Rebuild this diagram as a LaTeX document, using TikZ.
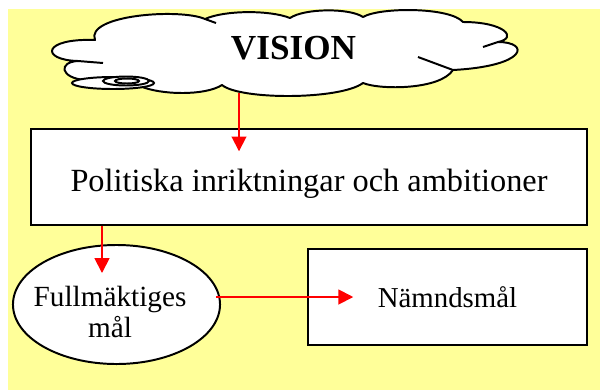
\documentclass[tikz,border=0pt]{standalone}
\usepackage{fontspec}
\setmainfont{Liberation Serif}
\usetikzlibrary{arrows.meta,calc,shapes.geometric}
\definecolor{bgyellow}{RGB}{255,255,153}
\begin{document}
\begin{tikzpicture}[x=0.025cm, y=-0.025cm,
  outline/.style={draw=black, line width=1.4pt, fill=white},
  box/.style={draw=black, line width=1pt, fill=white, rectangle, inner sep=0pt},
  arr/.style={red, line width=1.3pt, -{Triangle[width=10.5pt,length=10.5pt]}}]
    % Background
    \useasboundingbox (0,0) rectangle (600,390);
    \fill[bgyellow] (8,9) rectangle (600,390);

    % Cloud
    \draw[outline, line join=round] (95,40)
      .. controls (85,15) and (180,8) .. (205,19)
      .. controls (225,10) and (270,10) .. (290,18)
      .. controls (305,8) and (350,8) .. (363,17)
      .. controls (380,7) and (450,7) .. (463,22)
      .. controls (505,22) and (518,38) .. (498,42)
      .. controls (530,42) and (528,66) .. (453,70)
      .. controls (440,90) and (380,90) .. (363,83)
      .. controls (340,100) and (240,100) .. (222,85)
      .. controls (205,96) and (160,95) .. (140,86)
      -- (85,80)
      .. controls (60,78) and (58,62) .. (78,61)
      .. controls (40,60) and (42,38) .. (95,40) -- cycle;
    \foreach \a/\b/\c in {205/19/{216,23}, 498/42/{483,47}, 453/70/{418,57}, 78/61/{103,63}} {
      \draw[line width=1.4pt] (\a,\b) .. controls ($(\a,\b)!0.5!(\c)$) .. (\c);
    }

    % Bubbles
    \draw[outline] (113,83) ellipse [x radius=41, y radius=6];
    \draw[outline] (126,81) ellipse [x radius=23, y radius=4.5];
    \draw[outline] (127,81) ellipse [x radius=12, y radius=2.5];

    \node[font=\fontsize{25}{30}\selectfont\bfseries] (vision) at (293.5,48.5) {VISION};
    \coordinate (cloudbot) at (239,93);

    % Boxes
    \node[box, minimum width=13.9cm, minimum height=2.4cm, text height=20pt, text depth=0pt,
          font=\fontsize{23}{27}\selectfont] (politik) at (309,177)
          {Politiska inriktningar och ambitioner};
    \node[box, minimum width=6.975cm, minimum height=2.4cm,
          font=\fontsize{20.5}{24}\selectfont] (namnd) at (447.5,297) {Nämndsmål};
    \node[draw, ellipse, line width=1.4pt, fill=white, inner sep=0pt,
          minimum width=5.175cm, minimum height=2.975cm] (fullm) at (116.5,304.5) {};
    \node[align=center, font=\fontsize{20.8}{22}\selectfont] (fulltext) at (110,312)
          {Fullmäktiges\\mål};
    \coordinate (fulltop) at ($(fullm.north)+(-14.5,29)$);

    % Connections
    \draw[arr] (cloudbot) -- ($(cloudbot |- politik.north)+(0,23)$);
    \draw[arr] (politik.south -| fulltop) -- (fulltop);
    \draw[arr] ($(fullm.east |- namnd.west)+(-5,0)$) -- ($(namnd.west)+(46,0)$);
\end{tikzpicture}
\end{document}
